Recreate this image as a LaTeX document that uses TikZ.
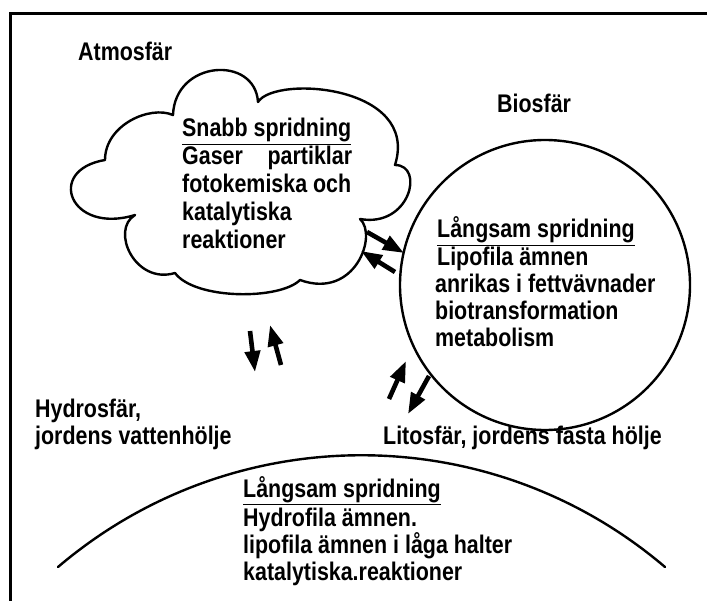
\documentclass[tikz,border=0pt]{standalone}
\usepackage{fontspec}
\setmainfont{Liberation Sans}[FakeStretch=0.84]
\usetikzlibrary{arrows.meta}
\tikzset{
  txt/.style={anchor=base west, inner sep=0pt, font=\fontsize{25.5}{30}\selectfont\bfseries},
  flowarrow/.style={line width=4.6pt, -{Triangle[length=21pt,width=15pt]}},
  outline/.style={line width=2.4pt, line cap=round, line join=round},
}
\begin{document}
\begin{tikzpicture}[x=1pt,y=-1pt]
\useasboundingbox (0,0) rectangle (707,601);
% frame
\draw[line width=3pt] (10,601) -- (10,14) -- (707,14);
% labels
\node[txt] (atm) at (78,61) {Atmosfär};
\node[txt] (bio) at (497,113) {Biosfär};
\node[txt] (hyd1) at (35,418) {Hydrosfär,};
\node[txt] (hyd2) at (35,445) {jordens vattenhölje};
\node[txt] (lit) at (383,445) {Litosfär, jordens fasta hölje};
% cloud
\draw[outline] (173,115) .. controls (175,60) and (255,55) .. (258,102)
  .. controls (275,75) and (420,85) .. (395,165)
  .. controls (425,165) and (410,228) .. (360,219)
  .. controls (378,235) and (355,300) .. (300,280)
  .. controls (280,300) and (195,300) .. (175,273)
  .. controls (135,285) and (110,230) .. (135,215)
  .. controls (70,235) and (45,170) .. (105,160)
  .. controls (105,125) and (150,105) .. (173,115) -- cycle;
\node[txt] (c1) at (182,137) {\underline{Snabb spridning}};
\node[txt] (c2) at (182,165) {\makebox[170pt][s]{Gaser partiklar}};
\node[txt] (c3) at (182,193) {fotokemiska och};
\node[txt] (c4) at (182,221) {katalytiska};
\node[txt] (c5) at (182,249) {reaktioner};
% circle
\draw[outline] (545,285) circle[radius=145];
\node[txt] (b1) at (437,238) {\underline{Långsam spridning}};
\node[txt] (b2) at (437,266) {Lipofila ämnen};
\node[txt] (b3) at (435,293) {anrikas i fettvävnader};
\node[txt] (b4) at (435,320) {biotransformation};
\node[txt] (b5) at (435,347) {metabolism};
% earth arc
\coordinate (arcL) at (58,567);
\coordinate (arcR) at (665,567);
\draw[outline] (arcL) .. controls (233,418) and (490,418) .. (arcR);
\node[txt] (e1) at (243,497) {\underline{Långsam spridning}};
\node[txt] (e2) at (243,526) {Hydrofila ämnen.};
\node[txt] (e3) at (243,553) {lipofila ämnen i låga halter};
\node[txt] (e4) at (243,580) {katalytiska.reaktioner};
% arrows
\coordinate (a1s) at (367,232); \coordinate (a1e) at (404,253);
\coordinate (a2s) at (395,272); \coordinate (a2e) at (361,251);
\coordinate (a3s) at (250,331); \coordinate (a3e) at (255,372);
\coordinate (a4s) at (281,365); \coordinate (a4e) at (270,325);
\coordinate (a5s) at (389,399); \coordinate (a5e) at (406,361);
\coordinate (a6s) at (429,376); \coordinate (a6e) at (408,414);
\draw[flowarrow] (a1s) -- (a1e);
\draw[flowarrow] (a2s) -- (a2e);
\draw[flowarrow] (a3s) -- (a3e);
\draw[flowarrow] (a4s) -- (a4e);
\draw[flowarrow] (a5s) -- (a5e);
\draw[flowarrow] (a6s) -- (a6e);
\end{tikzpicture}
\end{document}
